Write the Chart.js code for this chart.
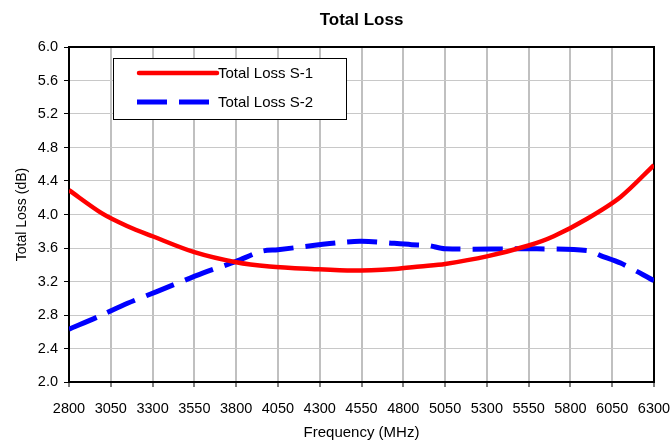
<!DOCTYPE html>
<html><head><meta charset="utf-8">
<script src="https://cdn.jsdelivr.net/npm/chart.js@4/dist/chart.umd.min.js"></script>
<style>html,body{margin:0;padding:0;background:#fff}#wrap{width:671px;height:443px}</style>
</head><body><div id="wrap"><canvas id="c" width="671" height="443"></canvas></div>
<script>
const chartTitle = "Total Loss";
const seriesNames = ["Total Loss S-1", "Total Loss S-2"];
const s1Freq = [2800,3000,3150,3300,3550,3800,4000,4250,4500,4750,4900,5050,5300,5550,5700,5900,6100,6300];
const s1Loss = [4.29,4.01,3.86,3.74,3.55,3.43,3.38,3.35,3.33,3.35,3.38,3.41,3.50,3.63,3.74,3.95,4.21,4.59];
const s2Freq = [2800,2975,3150,3325,3600,3800,3950,4050,4400,4550,4850,4950,5050,5600,5900,5980,6100,6300];
const s2Loss = [2.63,2.78,2.94,3.08,3.30,3.44,3.56,3.58,3.66,3.68,3.64,3.63,3.59,3.59,3.57,3.51,3.42,3.21];
const xMin = 2800, xMax = 6300, xStep = 250;
const yMin = 2.0, yMax = 6.0, yStep = 0.4;
const xTitle = "Frequency (MHz)";
const yTitle = "Total Loss (dB)";

const FONT = "'Liberation Sans', Arial, sans-serif";
const colors = ["#ff0000", "#0000ff"];

const framePlugin = {
  id: 'frame',
  beforeDatasetsDraw(chart) {
    const {ctx, chartArea: a} = chart;
    ctx.save();
    ctx.strokeStyle = '#000'; ctx.lineWidth = 2;
    ctx.strokeRect(a.left, a.top, a.right - a.left, a.bottom - a.top);
    ctx.restore();
  },
  afterDraw(chart) {
    const {ctx, chartArea: a} = chart;
    ctx.save();
    ctx.fillStyle = '#000';
    ctx.font = "bold 17px " + FONT;
    ctx.textAlign = 'center'; ctx.textBaseline = 'middle';
    ctx.fillText(chartTitle, (a.left + a.right) / 2, 20);
    const bx = 113, by = 58, bw = 233, bh = 61;
    ctx.fillStyle = '#fff';
    ctx.fillRect(bx, by, bw, bh);
    ctx.strokeStyle = '#000'; ctx.lineWidth = 1;
    ctx.strokeRect(bx + 0.5, by + 0.5, bw, bh);
    const rows = [73, 102];
    chart.data.datasets.forEach((ds, i) => {
      ctx.beginPath();
      ctx.strokeStyle = ds.borderColor;
      ctx.lineWidth = ds.borderWidth;
      ctx.lineCap = i === 0 ? 'round' : 'butt';
      ctx.setLineDash(ds.borderDash || []);
      ctx.moveTo(i === 0 ? 139 : 137, rows[i]);
      ctx.lineTo(217, rows[i]);
      ctx.stroke();
      ctx.setLineDash([]);
      ctx.fillStyle = '#000';
      ctx.font = "15px " + FONT;
      ctx.textAlign = 'left'; ctx.textBaseline = 'middle';
      ctx.fillText(ds.label, 218, rows[i] + 1);
    });
    ctx.restore();
  }
};

new Chart(document.getElementById('c'), {
  type: 'line',
  data: {
    datasets: [
      { label: seriesNames[0], data: s1Freq.map((f, i) => ({x: f, y: s1Loss[i]})),
        borderColor: colors[0], backgroundColor: colors[0], borderWidth: 4.5,
        pointRadius: 0, tension: 0.3, fill: false },
      { label: seriesNames[1], data: s2Freq.map((f, i) => ({x: f, y: s2Loss[i]})),
        borderColor: colors[1], backgroundColor: colors[1], borderWidth: 5,
        borderDash: [30, 12], pointRadius: 0, tension: 0.3, fill: false }
    ]
  },
  options: {
    responsive: false, animation: false, devicePixelRatio: 1,
    layout: { autoPadding: false, padding: { top: 47, right: 17, left: 14, bottom: 0 } },
    plugins: { legend: { display: false }, title: { display: false }, tooltip: { enabled: false } },
    scales: {
      x: {
        type: 'linear', min: xMin, max: xMax,
        afterBuildTicks(scale) {
          const t = []; for (let v = xMin; v <= xMax + 0.001; v += xStep) t.push({value: v}); scale.ticks = t;
        },
        afterFit(scale) { scale.height = 443 - 382; scale.paddingLeft = 0; scale.paddingRight = 0; },
        ticks: { color: '#000', font: { family: FONT, size: 14.5 }, padding: 13, maxRotation: 0, autoSkip: false,
                 callback: v => String(v) },
        grid: { color: '#c0c0c0', lineWidth: 2, tickColor: '#000', tickLength: 5, tickWidth: 1 },
        border: { color: '#000', width: 2 },
        title: { display: true, text: xTitle, color: '#000', font: { family: FONT, size: 15 }, padding: { top: 0, bottom: 1 } }
      },
      y: {
        type: 'linear', min: yMin, max: yMax,
        afterBuildTicks(scale) {
          const t = []; for (let i = 0; i <= Math.round((yMax - yMin) / yStep); i++) t.push({value: +(yMin + i * yStep).toFixed(1)}); scale.ticks = t;
        },
        afterFit(scale) { scale.width = 69 - 14; scale.paddingTop = 0; scale.paddingBottom = 0; },
        ticks: { color: '#000', font: { family: FONT, size: 14.5 }, padding: 6, callback: v => Number(v).toFixed(1) },
        grid: { color: '#c8c8c8', lineWidth: 1, tickColor: '#000', tickLength: 5, tickWidth: 1 },
        border: { color: '#000', width: 2 },
        title: { display: true, text: yTitle, color: '#000', font: { family: FONT, size: 14 }, padding: { top: 0, bottom: 0 } }
      }
    }
  },
  plugins: [framePlugin]
});
</script></body></html>
